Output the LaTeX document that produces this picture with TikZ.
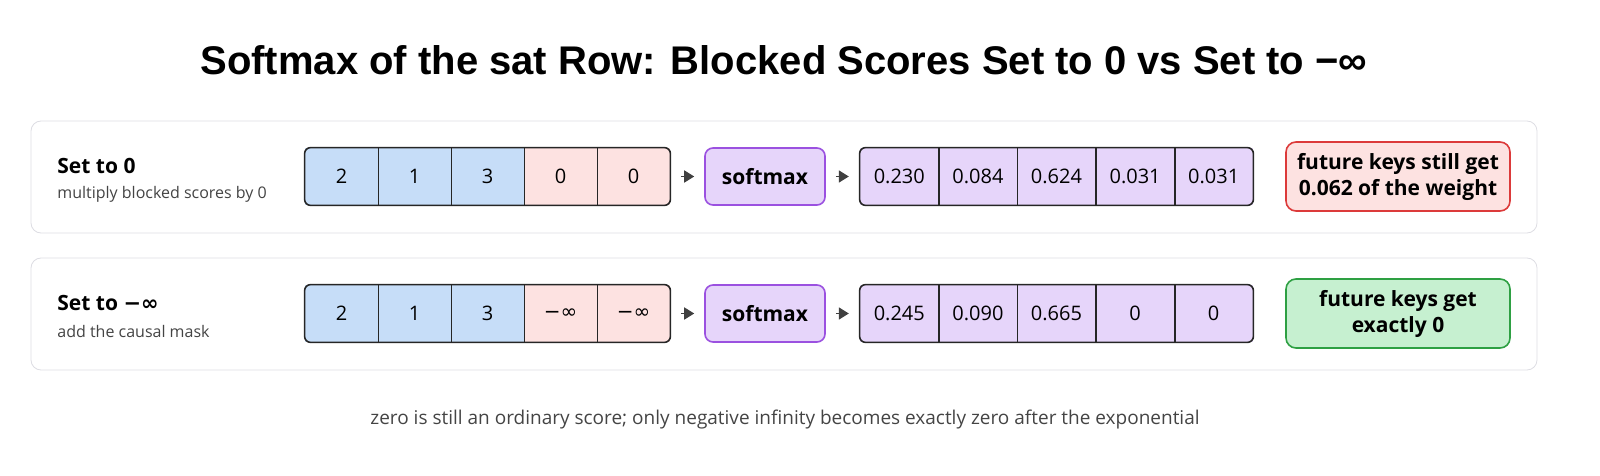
\documentclass[tikz,border=0pt]{standalone}
\usepackage{fontspec}
\setmainfont{Open Sans}
\newfontfamily\titlefont{Liberation Sans}
\newfontfamily\symfont{DejaVu Sans}
\usetikzlibrary{arrows.meta}
\usetikzlibrary{fit}
\usetikzlibrary{positioning}

\definecolor{keepblue}{HTML}{C6DDF8}
\definecolor{blockred}{HTML}{FDE2E1}
\definecolor{weightpurple}{HTML}{E6D5FA}
\definecolor{softborder}{HTML}{9B51E0}
\definecolor{badborder}{HTML}{DC3A3A}
\definecolor{goodfill}{HTML}{C6F0D0}
\definecolor{goodborder}{HTML}{2EA043}
\definecolor{panelgray}{HTML}{DDDDE3}
\definecolor{textgray}{HTML}{444444}

\newcommand{\minf}{{\symfont −∞}}

\tikzset{
  panel/.style={draw=panelgray,rounded corners=5pt,fill=white},
  cell/.style={minimum height=28.5pt,inner sep=0pt,font=\fontsize{10}{12}\selectfont},
  outline/.style={draw=black!85,thick,rounded corners=3pt,inner sep=0pt},
  softbox/.style={draw=softborder,thick,fill=weightpurple,rounded corners=4pt,
    minimum width=60pt,minimum height=28.5pt,font=\bfseries\fontsize{10.5}{12}\selectfont},
  note/.style={thick,rounded corners=5pt,minimum width=112pt,minimum height=34.5pt,
    align=center,font=\bfseries\fontsize{10.5}{13}\selectfont},
  flow/.style={-{Triangle[length=5pt,width=6pt]},thick,draw=black!75},
}

\begin{document}
\begin{tikzpicture}[x=0.5pt,y=-0.5pt]
  \useasboundingbox (0,0) rectangle (1600,476);

  \node (title) at (784,60) {\titlefont\bfseries\fontsize{20}{24}\selectfont Softmax of the sat Row: Blocked Scores Set to 0 vs Set to −∞};

  % row 1: set to 0
  \draw [panel] (31,121) rectangle (1537,233);
  \node [anchor=west,inner sep=0pt,font=\bfseries\fontsize{10.5}{12}\selectfont] (lab1) at (57,166) {Set to 0};
  \node [anchor=west,inner sep=0pt,text=textgray,font=\fontsize{8}{9}\selectfont] (sub1) at (57,194) {multiply blocked scores by 0};
  \foreach \v [count=\i] in {2,1,3,0,0} {
    \pgfmathsetmacro\cx{305+73*(\i-1)+36.5}
    \ifnum\i<4 \def\fc{keepblue}\else\def\fc{blockred}\fi
    \node [cell,fill=\fc,minimum width=36.5pt] (s1\i) at (\cx,176.5) {\v};
  }
  \node [softbox] (sm1) at (765,176.5) {softmax};
  \foreach \v [count=\i] in {0.230,0.084,0.624,0.031,0.031} {
    \pgfmathsetmacro\cx{860+78.6*(\i-1)+39.3}
    \node [cell,fill=weightpurple,minimum width=39.3pt] (w1\i) at (\cx,176.5) {\v};
  }
  \node [outline,fit=(s11) (s15)] (in1) {};
  \node [outline,fit=(w11) (w15)] (out1) {};
  \foreach \i in {1,...,4} {
    \draw [thick,black!85] (s1\i.north east) -- (s1\i.south east);
    \draw [thick,black!85] (w1\i.north east) -- (w1\i.south east);
  }
  \draw [flow] ([xshift=5pt]in1.east) -- ([xshift=-5pt]sm1.west);
  \draw [flow] ([xshift=5pt]sm1.east) -- ([xshift=-5pt]out1.west);
  \node [note,draw=badborder,fill=blockred] (note1) at (1398,176.5) {future keys still get\\0.062 of the weight};

  % row 2: set to minus infinity
  \draw [panel] (31,258) rectangle (1537,370);
  \node [anchor=west,inner sep=0pt,font=\bfseries\fontsize{10.5}{12}\selectfont] (lab2) at (57,303) {Set to \minf};
  \node [anchor=west,inner sep=0pt,text=textgray,font=\fontsize{8}{9}\selectfont] (sub2) at (57,331) {add the causal mask};
  \foreach \v [count=\i] in {2,1,3,\minf,\minf} {
    \pgfmathsetmacro\cx{305+73*(\i-1)+36.5}
    \ifnum\i<4 \def\fc{keepblue}\else\def\fc{blockred}\fi
    \node [cell,fill=\fc,minimum width=36.5pt] (s2\i) at (\cx,313.5) {\v};
  }
  \node [softbox] (sm2) at (765,313.5) {softmax};
  \foreach \v [count=\i] in {0.245,0.090,0.665,0,0} {
    \pgfmathsetmacro\cx{860+78.6*(\i-1)+39.3}
    \node [cell,fill=weightpurple,minimum width=39.3pt] (w2\i) at (\cx,313.5) {\v};
  }
  \node [outline,fit=(s21) (s25)] (in2) {};
  \node [outline,fit=(w21) (w25)] (out2) {};
  \foreach \i in {1,...,4} {
    \draw [thick,black!85] (s2\i.north east) -- (s2\i.south east);
    \draw [thick,black!85] (w2\i.north east) -- (w2\i.south east);
  }
  \draw [flow] ([xshift=5pt]in2.east) -- ([xshift=-5pt]sm2.west);
  \draw [flow] ([xshift=5pt]sm2.east) -- ([xshift=-5pt]out2.west);
  \node [note,draw=goodborder,fill=goodfill] (note2) at (1398,313.5) {future keys get\\exactly 0};

  \node [text=textgray,font=\fontsize{9.5}{11}\selectfont] (foot) at (785,420) {zero is still an ordinary score; only negative infinity becomes exactly zero after the exponential};
\end{tikzpicture}
\end{document}
